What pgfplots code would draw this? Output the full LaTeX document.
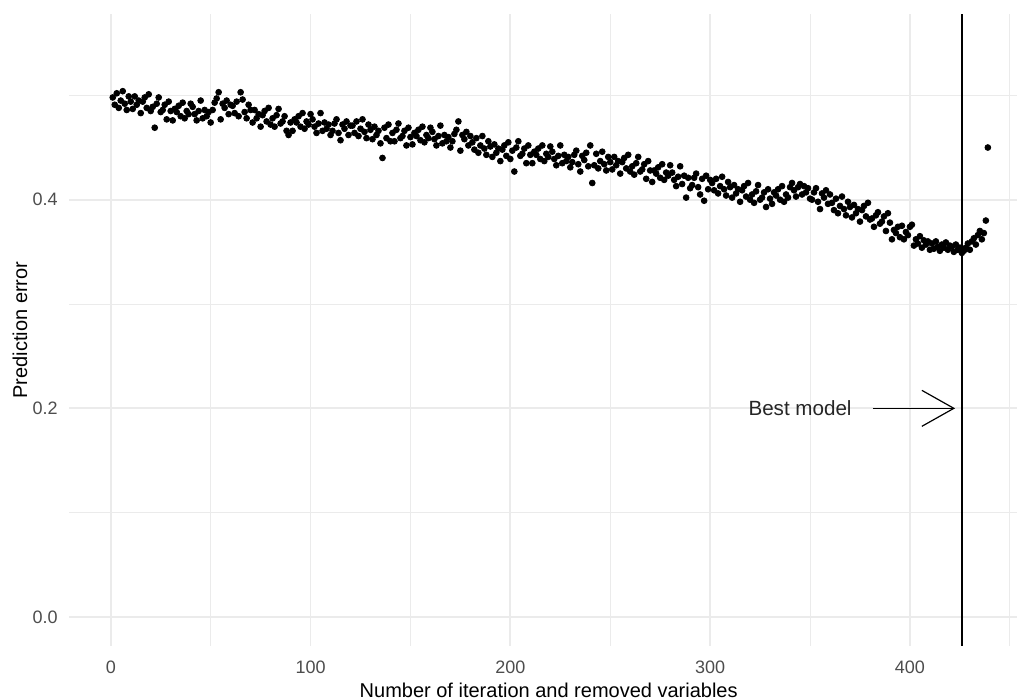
\documentclass[border=0pt]{standalone}
\usepackage{fontspec}
\setmainfont{Liberation Sans}
\usepackage{pgfplots}
\pgfplotsset{compat=1.18}
\usetikzlibrary{arrows.meta}
\definecolor{gridc}{HTML}{EBEBEB}
\definecolor{tickc}{HTML}{4D4D4D}
\begin{document}
\begin{tikzpicture}
\begin{axis}[
  scale only axis,
  width=474pt, height=316pt,
  xmin=-20.9, xmax=453.6,
  ymin=-0.0278, ymax=0.578,
  axis line style={draw=none},
  tick style={draw=none},
  xtick={0,100,200,300,400},
  minor xtick={50,150,250,350,450},
  ytick={0,0.2,0.4},
  minor ytick={0.1,0.3,0.5},
  grid=both,
  major grid style={gridc, line width=0.9pt},
  minor grid style={gridc, line width=0.45pt},
  /pgf/number format/assume math mode=true,
  yticklabel style={/pgf/number format/fixed, /pgf/number format/fixed zerofill, /pgf/number format/precision=1, anchor=east, inner sep=0pt, xshift=-5.5pt, font=\fontsize{9}{11}\selectfont, text=tickc},
  xticklabel style={anchor=center, inner sep=0pt, yshift=-10.5pt, font=\fontsize{9}{11}\selectfont, text=tickc},
  xlabel={Number of iteration and removed variables},
  ylabel={Prediction error},
  xlabel style={at={(rel axis cs:0.506,0)}, anchor=center, yshift=-22pt, font=\fontsize{10}{12}\selectfont},
  ylabel style={at={(rel axis cs:-0.0517,0.5)}, anchor=center, rotate=0, font=\fontsize{10}{12}\selectfont},
]
\addplot[only marks, mark=*, mark size=1.45pt, black] coordinates {
(1,0.498) (2,0.491) (3,0.502) (4,0.488) (5,0.495) (6,0.504) (7,0.492) (8,0.486) (9,0.499) (10,0.494)
(11,0.487) (12,0.499) (13,0.491) (14,0.495) (15,0.483) (16,0.494) (17,0.498) (18,0.488) (19,0.501) (20,0.485)
(21,0.489) (22,0.469) (23,0.492) (24,0.498) (25,0.484) (26,0.486) (27,0.491) (28,0.477) (29,0.494) (30,0.485)
(31,0.476) (32,0.487) (33,0.484) (34,0.490) (35,0.480) (36,0.493) (37,0.478) (38,0.485) (39,0.482) (40,0.492)
(41,0.489) (42,0.482) (43,0.476) (44,0.485) (45,0.495) (46,0.478) (47,0.486) (48,0.480) (49,0.484) (50,0.474)
(51,0.486) (52,0.493) (53,0.497) (54,0.503) (55,0.477) (56,0.492) (57,0.488) (58,0.495) (59,0.482) (60,0.491)
(61,0.490) (62,0.483) (63,0.494) (64,0.480) (65,0.503) (66,0.496) (67,0.484) (68,0.478) (69,0.491) (70,0.486)
(71,0.474) (72,0.486) (73,0.478) (74,0.482) (75,0.470) (76,0.481) (77,0.485) (78,0.475) (79,0.488) (80,0.472)
(81,0.478) (82,0.470) (83,0.481) (84,0.487) (85,0.473) (86,0.475) (87,0.480) (88,0.466) (89,0.462) (90,0.474)
(91,0.466) (92,0.477) (93,0.474) (94,0.480) (95,0.470) (96,0.483) (97,0.468) (98,0.475) (99,0.472) (100,0.482)
(101,0.477) (102,0.470) (103,0.464) (104,0.473) (105,0.483) (106,0.466) (107,0.474) (108,0.468) (109,0.472) (110,0.462)
(111,0.466) (112,0.473) (113,0.477) (114,0.464) (115,0.457) (116,0.472) (117,0.468) (118,0.475) (119,0.462) (120,0.471)
(121,0.471) (122,0.464) (123,0.475) (124,0.461) (125,0.468) (126,0.477) (127,0.465) (128,0.459) (129,0.472) (130,0.467)
(131,0.458) (132,0.470) (133,0.462) (134,0.466) (135,0.454) (136,0.440) (137,0.469) (138,0.459) (139,0.472) (140,0.456)
(141,0.464) (142,0.456) (143,0.467) (144,0.473) (145,0.459) (146,0.461) (147,0.466) (148,0.452) (149,0.469) (150,0.460)
(151,0.453) (152,0.464) (153,0.461) (154,0.467) (155,0.457) (156,0.470) (157,0.455) (158,0.462) (159,0.459) (160,0.469)
(161,0.465) (162,0.458) (163,0.452) (164,0.461) (165,0.471) (166,0.454) (167,0.462) (168,0.456) (169,0.460) (170,0.450)
(171,0.456) (172,0.463) (173,0.467) (174,0.475) (175,0.447) (176,0.462) (177,0.458) (178,0.465) (179,0.452) (180,0.461)
(181,0.455) (182,0.448) (183,0.459) (184,0.445) (185,0.452) (186,0.461) (187,0.449) (188,0.443) (189,0.456) (190,0.451)
(191,0.441) (192,0.453) (193,0.445) (194,0.449) (195,0.437) (196,0.448) (197,0.452) (198,0.442) (199,0.455) (200,0.439)
(201,0.447) (202,0.427) (203,0.450) (204,0.456) (205,0.442) (206,0.444) (207,0.449) (208,0.435) (209,0.452) (210,0.443)
(211,0.435) (212,0.446) (213,0.443) (214,0.449) (215,0.439) (216,0.452) (217,0.437) (218,0.444) (219,0.441) (220,0.451)
(221,0.446) (222,0.439) (223,0.433) (224,0.442) (225,0.452) (226,0.435) (227,0.443) (228,0.437) (229,0.441) (230,0.431)
(231,0.436) (232,0.443) (233,0.447) (234,0.434) (235,0.427) (236,0.442) (237,0.438) (238,0.445) (239,0.432) (240,0.452)
(241,0.416) (242,0.433) (243,0.444) (244,0.430) (245,0.437) (246,0.446) (247,0.434) (248,0.428) (249,0.441) (250,0.436)
(251,0.429) (252,0.441) (253,0.433) (254,0.437) (255,0.425) (256,0.436) (257,0.440) (258,0.430) (259,0.443) (260,0.427)
(261,0.432) (262,0.424) (263,0.435) (264,0.441) (265,0.427) (266,0.429) (267,0.434) (268,0.420) (269,0.437) (270,0.428)
(271,0.417) (272,0.428) (273,0.425) (274,0.431) (275,0.421) (276,0.434) (277,0.419) (278,0.426) (279,0.423) (280,0.433)
(281,0.426) (282,0.419) (283,0.413) (284,0.422) (285,0.432) (286,0.415) (287,0.423) (288,0.402) (289,0.421) (290,0.411)
(291,0.414) (292,0.421) (293,0.425) (294,0.412) (295,0.405) (296,0.420) (297,0.399) (298,0.423) (299,0.410) (300,0.419)
(301,0.416) (302,0.409) (303,0.420) (304,0.406) (305,0.413) (306,0.422) (307,0.410) (308,0.404) (309,0.417) (310,0.412)
(311,0.402) (312,0.414) (313,0.406) (314,0.410) (315,0.398) (316,0.409) (317,0.413) (318,0.403) (319,0.416) (320,0.400)
(321,0.405) (322,0.397) (323,0.408) (324,0.414) (325,0.400) (326,0.402) (327,0.407) (328,0.393) (329,0.410) (330,0.401)
(331,0.396) (332,0.407) (333,0.404) (334,0.410) (335,0.400) (336,0.413) (337,0.398) (338,0.405) (339,0.402) (340,0.412)
(341,0.416) (342,0.409) (343,0.403) (344,0.412) (345,0.415) (346,0.405) (347,0.413) (348,0.407) (349,0.411) (350,0.401)
(351,0.400) (352,0.407) (353,0.411) (354,0.398) (355,0.391) (356,0.406) (357,0.402) (358,0.409) (359,0.396) (360,0.405)
(361,0.397) (362,0.390) (363,0.401) (364,0.387) (365,0.394) (366,0.403) (367,0.391) (368,0.385) (369,0.398) (370,0.393)
(371,0.383) (372,0.395) (373,0.387) (374,0.391) (375,0.379) (376,0.390) (377,0.394) (378,0.384) (379,0.397) (380,0.381)
(381,0.382) (382,0.374) (383,0.385) (384,0.388) (385,0.377) (386,0.379) (387,0.384) (388,0.370) (389,0.387) (390,0.378)
(391,0.362) (392,0.371) (393,0.368) (394,0.374) (395,0.364) (396,0.375) (397,0.362) (398,0.369) (399,0.366) (400,0.374)
(401,0.376) (402,0.356) (403,0.362) (404,0.358) (405,0.365) (406,0.354) (407,0.361) (408,0.357) (409,0.360) (410,0.352)
(411,0.358) (412,0.353) (413,0.360) (414,0.355) (415,0.351) (416,0.357) (417,0.354) (418,0.359) (419,0.352) (420,0.356)
(421,0.355) (422,0.350) (423,0.357) (424,0.352) (425,0.354) (426,0.349) (427,0.351)
(428,0.354) (429,0.358) (430,0.352) (431,0.360) (432,0.363) (433,0.357) (434,0.366) (435,0.370) (436,0.362) (437,0.368)
(438,0.380) (439,0.450)
};
\draw[line width=0.9pt, black] ({axis cs:426,0}|-{rel axis cs:0,0}) -- ({axis cs:426,0}|-{rel axis cs:0,1});
\draw[line width=0.6pt, black, -{Straight Barb[length=16pt, width=18pt]}] (axis cs:381.5,0.2) -- (axis cs:422.6,0.2);
\node[font=\fontsize{10.3}{12}\selectfont, text=black!85] at (axis cs:345,0.2) {Best model};
\end{axis}
\pgfresetboundingbox
\path[use as bounding box] ([xshift=-34.5pt,yshift=-26.5pt]current axis.south west) rectangle ([yshift=7pt]current axis.north east);
\end{tikzpicture}
\end{document}
